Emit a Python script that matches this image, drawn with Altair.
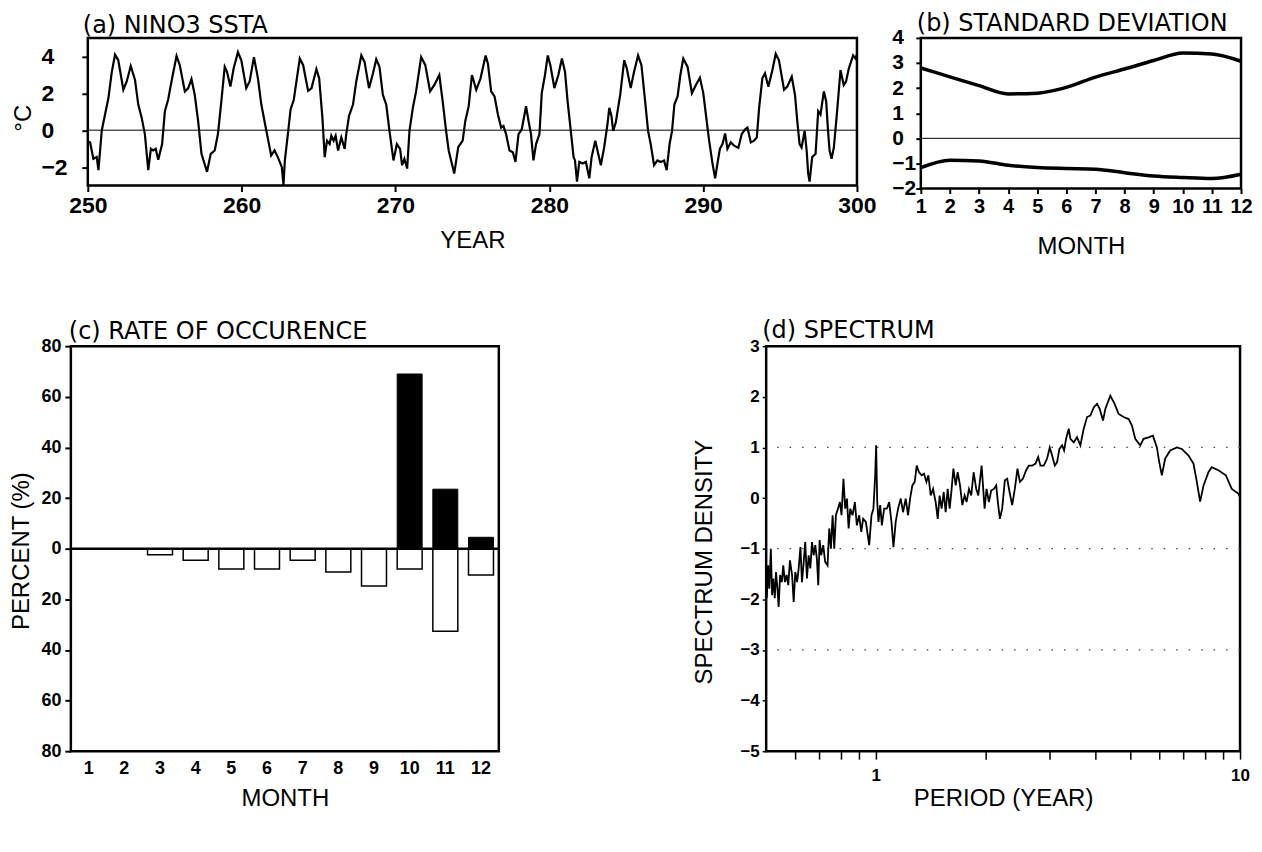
import altair as alt
import pandas as pd

FONT = "Liberation Sans"
TFONT = "DejaVu Sans"

# ---------------- (a) NINO3 SSTA ----------------
sst_year = [
    250.0, 250.15, 250.36, 250.58, 250.69, 250.91, 251.12, 251.34, 251.56, 251.77,
    251.98, 252.31, 252.53, 252.79, 253.07, 253.28, 253.5, 253.71, 253.93, 254.1,
    254.25, 254.41, 254.58, 254.83, 255.01, 255.22, 255.48, 255.77, 255.98, 256.31,
    256.52, 256.74, 256.95, 257.17, 257.39, 257.75, 257.99, 258.25, 258.46, 258.68,
    258.9, 259.05, 259.27, 259.48, 259.76, 259.98, 260.3, 260.52, 260.8, 261.06,
    261.28, 261.6, 261.92, 262.14, 262.35, 262.61, 262.72, 262.81, 263.03, 263.18,
    263.39, 263.56, 263.78, 264.0, 264.32, 264.54, 264.86, 265.04, 265.25, 265.4,
    265.55, 265.72, 265.83, 265.98, 266.11, 266.27, 266.48, 266.7, 266.8, 266.98,
    267.24, 267.45, 267.78, 267.99, 268.28, 268.54, 268.75, 268.96, 269.18, 269.4,
    269.61, 269.87, 270.09, 270.3, 270.43, 270.58, 270.76, 270.91, 271.13, 271.34,
    271.67, 271.94, 272.25, 272.53, 272.85, 273.07, 273.29, 273.46, 273.82, 274.08,
    274.37, 274.54, 274.76, 274.97, 275.25, 275.53, 275.86, 276.01, 276.22, 276.44,
    276.66, 276.87, 277.02, 277.19, 277.41, 277.63, 277.8, 278.0, 278.21, 278.49,
    278.65, 278.81, 278.97, 279.14, 279.36, 279.51, 279.72, 279.9, 280.07, 280.33,
    280.59, 280.82, 281.02, 281.19, 281.41, 281.58, 281.67, 281.8, 281.95, 282.16,
    282.38, 282.6, 282.75, 282.99, 283.18, 283.35, 283.57, 283.78, 283.9, 284.04,
    284.15, 284.32, 284.61, 284.87, 285.04, 285.29, 285.51, 285.77, 285.99, 286.23,
    286.42, 286.59, 286.81, 287.03, 287.24, 287.46, 287.63, 287.82, 287.98, 288.13,
    288.34, 288.52, 288.71, 288.99, 289.27, 289.53, 289.79, 290.01, 290.18, 290.39,
    290.61, 290.78, 290.93, 291.09, 291.26, 291.43, 291.58, 291.8, 292.02, 292.29,
    292.51, 292.73, 292.88, 293.1, 293.31, 293.49, 293.64, 293.85, 294.02, 294.24,
    294.5, 294.72, 294.93, 295.26, 295.47, 295.76, 295.97, 296.12, 296.27, 296.4,
    296.6, 296.73, 296.83, 296.92, 297.09, 297.31, 297.48, 297.63, 297.85, 298.0,
    298.12, 298.22, 298.35, 298.5, 298.71, 298.93, 299.14, 299.29, 299.47, 299.75,
    299.9, 300.0,
]
sst_anom = [
    -0.62, -0.66, -1.55, -1.45, -2.17, 0.0, 0.85, 1.74, 3.16, 4.09,
    3.79, 2.19, 2.64, 3.48, 2.72, 1.39, 0.68, -0.21, -2.17, -1.01,
    -1.1, -1.01, -1.6, -0.75, 1.03, 1.65, 2.81, 4.02, 3.52, 2.1,
    2.27, 2.77, 1.92, 0.5, -1.28, -2.26, -1.28, -1.1, -0.21, 1.56,
    3.43, 3.16, 2.36, 3.34, 4.23, 3.79, 2.28, 2.64, 3.96, 2.81,
    1.39, 0.0, -1.37, -1.1, -1.46, -1.99, -2.97, -1.64, -0.04, 1.12,
    1.65, 2.63, 3.88, 3.52, 2.13, 2.27, 3.31, 2.81, 0.68, -1.46,
    -0.57, -0.75, -0.3, -0.57, -0.3, -1.1, -0.39, -1.01, -0.21, 0.77,
    1.39, 2.63, 4.05, 3.7, 2.28, 3.08, 3.84, 3.43, 1.92, 1.39,
    -0.04, -1.64, -0.75, -1.01, -1.9, -1.55, -2.08, -0.04, 1.21, 2.1,
    3.96, 3.52, 2.1, 2.45, 2.99, 1.56, -0.04, -1.1, -2.35, -0.92,
    -0.57, 0.5, 1.3, 2.99, 2.19, 2.81, 4.05, 3.6, 2.1, 1.83,
    0.85, 0.14, 0.23, -0.21, -1.1, -1.19, -1.72, -0.21, 0.05, 1.3,
    0.5, -0.21, -1.64, -0.75, -0.21, 2.01, 2.99, 4.05, 3.52, 2.28,
    2.99, 3.88, 3.17, 1.56, -0.13, -1.46, -1.64, -2.79, -1.72, -1.81,
    -1.72, -2.61, -1.46, -0.57, -1.28, -1.9, -0.92, 0.32, 1.21, 0.77,
    -0.04, 0.41, 1.92, 3.79, 3.34, 2.28, 3.17, 4.05, 3.52, 1.56,
    -0.04, -0.75, -1.9, -1.64, -1.72, -1.64, -2.17, -0.75, -0.04, 1.39,
    1.83, 2.99, 3.88, 3.43, 2.01, 2.45, 2.84, 2.01, 0.85, -0.57,
    -1.81, -2.61, -1.81, -1.01, -0.75, -0.18, -1.01, -0.66, -0.84, -0.96,
    -0.21, 0.05, 0.14, -0.66, -0.57, -0.39, 1.21, 2.81, 3.08, 2.36,
    3.25, 4.14, 3.79, 2.19, 2.36, 2.9, 1.92, 0.5, -0.75, -0.93,
    -0.04, -1.1, -2.35, -2.79, -1.46, -1.28, 1.03, 0.85, 2.1, 1.56,
    -0.04, -1.1, -1.55, -0.93, 1.03, 3.25, 2.45, 2.63, 3.34, 4.05,
    3.88, 4.1,
]
year_ticks = [250, 260, 270, 280, 290, 300]
sst_ticks = [-2, 0, 2, 4]

# ---------------- (b) STANDARD DEVIATION ----------------
month = list(range(1, 13))
std_upper = [2.8, 2.45, 2.1, 1.77, 1.8, 2.03, 2.44, 2.76, 3.1, 3.4, 3.36, 3.07]
std_lower = [-1.17, -0.87, -0.9, -1.07, -1.16, -1.2, -1.23, -1.37, -1.5, -1.56, -1.6, -1.43]
std_ticks = [-2, -1, 0, 1, 2, 3, 4]

# ---------------- (c) RATE OF OCCURENCE ----------------
rate_warm = [0, 0, 0, 0, 0, 0, 0, 0, 0, 69, 23.5, 4.5]
rate_cold = [0, 0, 2.4, 4.6, 8, 8, 4.6, 9.2, 14.7, 8, 32.6, 10.4]
pct_ticks = [-80, -60, -40, -20, 0, 20, 40, 60, 80]

# ---------------- (d) SPECTRUM ----------------
period = [
    0.502, 0.506, 0.510, 0.515, 0.519, 0.523, 0.528, 0.532, 0.537, 0.541,
    0.546, 0.552, 0.557, 0.563, 0.569, 0.575, 0.581, 0.589, 0.595, 0.601,
    0.608, 0.614, 0.621, 0.627, 0.634, 0.640, 0.647, 0.654, 0.661, 0.668,
    0.675, 0.682, 0.689, 0.695, 0.701, 0.708, 0.717, 0.726, 0.737, 0.745,
    0.753, 0.761, 0.769, 0.777, 0.787, 0.797, 0.805, 0.815, 0.824, 0.833,
    0.842, 0.851, 0.863, 0.876, 0.887, 0.900, 0.912, 0.923, 0.939, 0.959,
    0.973, 0.985, 0.996, 1.002, 1.009, 1.017, 1.028, 1.039, 1.054, 1.072,
    1.088, 1.104, 1.118, 1.134, 1.151, 1.171, 1.188, 1.208, 1.226, 1.242,
    1.260, 1.279, 1.295, 1.314, 1.337, 1.356, 1.377, 1.394, 1.415, 1.436,
    1.460, 1.479, 1.497, 1.516, 1.536, 1.555, 1.575, 1.595, 1.615, 1.633,
    1.657, 1.678, 1.703, 1.728, 1.753, 1.775, 1.802, 1.828, 1.856, 1.887,
    1.911, 1.952, 1.989, 2.014, 2.044, 2.074, 2.109, 2.141, 2.163, 2.191,
    2.223, 2.261, 2.295, 2.329, 2.368, 2.408, 2.449, 2.486, 2.533, 2.587,
    2.631, 2.687, 2.744, 2.791, 2.832, 2.892, 2.953, 3.003, 3.048, 3.100,
    3.146, 3.192, 3.247, 3.288, 3.330, 3.386, 3.422, 3.495, 3.569, 3.645,
    3.722, 3.802, 3.882, 3.965, 4.049, 4.118, 4.205, 4.267, 4.404, 4.526,
    4.642, 4.790, 4.944, 5.049, 5.156, 5.321, 5.435, 5.610, 5.765, 5.912,
    6.000, 6.100, 6.230, 6.430, 6.710, 6.920, 7.220, 7.450, 7.610, 7.770,
    7.940, 8.190, 8.360, 8.720, 9.140, 9.490, 9.890, 10.0,
]
density = [
    -1.98, -1.33, -1.79, -1.0, -1.92, -1.59, -1.98, -1.46, -1.79, -2.15,
    -1.52, -1.66, -1.33, -1.66, -1.52, -1.72, -1.23, -1.52, -2.05, -1.46,
    -1.66, -1.39, -0.97, -1.66, -1.26, -0.87, -1.59, -1.13, -1.39, -0.87,
    -1.13, -0.93, -1.2, -1.72, -0.83, -1.13, -0.93, -1.26, -1.33, -0.6,
    -1.0, -0.34, -1.0, -0.34, -0.21, -0.08, -0.34, 0.38, -0.21, -0.01,
    -0.6, -0.21, -0.34, -0.08, -0.54, -0.34, -0.67, -0.41, -0.47, -0.93,
    -0.34, -0.21, 0.45, 1.04, -0.08, -0.47, -0.14, -0.54, -0.21, -0.21,
    -0.08, -0.47, -0.97, -0.47, -0.21, -0.01, -0.28, -0.01, -0.34, -0.01,
    0.25, 0.32, 0.64, 0.51, 0.45, 0.48, 0.32, 0.45, 0.05, 0.18,
    -0.08, -0.41, 0.05, -0.21, 0.12, -0.28, 0.18, -0.21, 0.18, 0.58,
    0.25, 0.51, 0.25, -0.14, 0.05, -0.08, 0.18, 0.05, 0.51, 0.18,
    0.05, 0.64, -0.21, 0.18, -0.08, 0.15, 0.18, 0.25, -0.08, -0.41,
    -0.21, 0.35, 0.38, 0.12, -0.14, 0.18, 0.58, 0.32, 0.38, 0.55,
    0.64, 0.64, 0.68, 0.81, 0.64, 0.64, 0.78, 1.0, 0.84, 0.64,
    0.71, 0.97, 1.04, 0.94, 1.17, 1.37, 1.17, 1.1, 1.2, 1.04,
    1.37, 1.6, 1.63, 1.79, 1.86, 1.76, 1.53, 1.76, 2.02, 1.86,
    1.66, 1.6, 1.56, 1.43, 1.17, 1.04, 1.17, 1.2, 1.23, 1.0,
    0.71, 0.45, 0.78, 0.94, 1.0, 0.97, 0.84, 0.68, 0.32, -0.07,
    0.25, 0.51, 0.61, 0.55, 0.45, 0.18, 0.09, 0.02,
]
period_ticks = [0.6, 0.7, 0.8, 0.9, 1, 2, 3, 4, 5, 6, 7, 8, 9, 10]
density_ticks = [-5, -4, -3, -2, -1, 0, 1, 2, 3]
dotted_levels = [1, -1, -3]

# ---------------- sizes ----------------
AW, AH = 771, 148
BW, BH = 321, 151
CW, CH = 429, 406
DW, DH = 475, 406


def ptitle(text, dx, offset):
    return alt.TitleParams(text, anchor="start", frame="group", font=TFONT, fontSize=24,
                           fontWeight="normal", color="black", dx=dx, offset=offset)


def xaxis(values, title, size, tx, ty, **kw):
    if values is not None:
        kw["values"] = values
    return alt.Axis(title=title, labelFont=FONT, labelFontSize=size,
                    labelFontWeight="bold", labelFlush=False, labelOverlap=False,
                    titleFont=FONT, titleFontSize=24, titleFontWeight="normal",
                    titleX=tx, titleY=ty, titleBaseline="middle", titleAlign="center", **kw)


def yaxis(values, title, size, tx, ty, **kw):
    return alt.Axis(values=values, title=title, labelFont=FONT, labelFontSize=size,
                    labelFontWeight="bold", labelOverlap=False,
                    titleFont=FONT, titleFontSize=24, titleFontWeight="normal",
                    titleX=tx, titleY=ty, titleBaseline="middle", titleAlign="center",
                    titleAngle=270, **kw)


# ---- panel (a)
df_a = pd.DataFrame({"year": sst_year, "ssta": sst_anom})
xa = alt.X("year:Q", scale=alt.Scale(domain=[250, 300], nice=False, zero=False),
           axis=xaxis(year_ticks, "YEAR", 23, AW / 2, 55, format="d", tickSize=6, tickWidth=2, labelPadding=3))
ya = alt.Y("ssta:Q", scale=alt.Scale(domain=[-3, 5], nice=False),
           axis=yaxis(sst_ticks, "°C", 23, -64, 80, labelAlign="left", tickSize=6, tickWidth=2, labelPadding=41))
zero_a = alt.Chart(pd.DataFrame({"ssta": [0]})).mark_rule(color="black", strokeWidth=1).encode(y=ya)
line_a = alt.Chart(df_a).mark_line(color="black", strokeWidth=2.2).encode(x=xa, y=ya)
panel_a = alt.layer(zero_a, line_a).properties(width=AW, height=AH, title=ptitle("(a) NINO3 SSTA", -5, -0.5))

# ---- panel (b)
df_b = pd.DataFrame({"month": month, "upper": std_upper, "lower": std_lower})
xb = alt.X("month:Q", scale=alt.Scale(domain=[1, 12], nice=False, zero=False),
           axis=xaxis(month, "MONTH", 20, BW / 2, 58, format="d", tickSize=5, tickWidth=2, labelPadding=3))
yb = alt.Y("sd:Q", scale=alt.Scale(domain=[-2, 4], nice=False),
           axis=yaxis(std_ticks, "", 21, -40, 75, labelAlign="left", tickSize=5, tickWidth=2, labelPadding=24))
zero_b = alt.Chart(pd.DataFrame({"sd": [0]})).mark_rule(color="black", strokeWidth=1).encode(y=yb)
lines_b = alt.Chart(df_b).transform_fold(["upper", "lower"], as_=["bound", "sd"]).mark_line(
    color="black", strokeWidth=3.5, interpolate="monotone").encode(x=xb, y=yb, detail="bound:N")
panel_b = alt.layer(zero_b, lines_b).properties(width=BW, height=BH,
                                                title=ptitle("(b) STANDARD DEVIATION", -4, -9.5))

# ---- panel (c)
df_c = pd.DataFrame({"month": month, "warm": rate_warm, "cold": rate_cold})
xc = alt.X("month:O", scale=alt.Scale(paddingInner=0.3, paddingOuter=0.15),
           axis=xaxis(None, "MONTH", 18, CW / 2, 47, labelAngle=0, ticks=False, tickSize=0, labelPadding=8))
yc = alt.Y("pct:Q", scale=alt.Scale(domain=[-80, 80], nice=False),
           axis=yaxis(pct_ticks, "PERCENT (%)", 18, -49, 205, labelExpr="abs(datum.value)",
                      tickSize=6, tickWidth=2, labelPadding=4))
cold_c = alt.Chart(df_c).transform_calculate(pct="-datum.cold").mark_bar(
    fill="white", stroke="black", strokeWidth=1.5).encode(x=xc, y=yc, y2=alt.datum(0))
warm_c = alt.Chart(df_c).transform_calculate(pct="datum.warm").mark_bar(
    fill="black", stroke="black", strokeWidth=1).encode(x=xc, y=yc, y2=alt.datum(0))
zero_c = alt.Chart(pd.DataFrame({"pct": [0]})).mark_rule(color="black", strokeWidth=2.5).encode(y=yc)
panel_c = alt.layer(cold_c, warm_c, zero_c).properties(width=CW, height=CH,
                                                       title=ptitle("(c) RATE OF OCCURENCE", -2, -7))

# ---- panel (d)
df_d = pd.DataFrame({"period": period, "density": density})
xd = alt.X("period:Q", scale=alt.Scale(type="log", domain=[0.5, 10], nice=False),
           axis=xaxis(period_ticks, "PERIOD (YEAR)", 17, DW / 2, 47, format="~g",
                      labelExpr="(datum.value == 1 || datum.value == 10) ? datum.label : ''",
                      tickSize=8, tickWidth=1.5, labelPadding=8))
yd = alt.Y("density:Q", scale=alt.Scale(domain=[-5, 3], nice=False),
           axis=yaxis(density_ticks, "SPECTRUM DENSITY", 17, -62, 216, tickSize=4, tickWidth=1.5, labelPadding=3))
grid_d = alt.Chart(pd.DataFrame({"density": dotted_levels})).mark_rule(
    color="#444444", strokeWidth=1.3, strokeDash=[1.5, 11]).encode(y=yd)
line_d = alt.Chart(df_d).mark_line(color="black", strokeWidth=1.8).encode(x=xd, y=yd)
panel_d = alt.layer(grid_d, line_d).properties(width=DW, height=DH, title=ptitle("(d) SPECTRUM", -4, -6))

# ---- layout
spacer = alt.Chart(pd.DataFrame({"s": [0]})).mark_point(opacity=0).encode(
    x=alt.X("s:Q", axis=None), y=alt.Y("s:Q", axis=None)
).properties(width=1, height=1, view=alt.ViewBackground(strokeOpacity=0))

top = alt.hconcat(spacer, alt.hconcat(panel_a, panel_b, spacing=64, bounds="flush"),
                  spacing=16, bounds="flush")
bottom = alt.hconcat(panel_c, panel_d, spacing=268, bounds="flush")

# nested concat rows count as zero height with flush bounds, so the spacing is top-to-top
chart = alt.vconcat(top, bottom, spacing=309, bounds="flush").properties(
    padding={"left": 0, "top": 2, "right": 0, "bottom": 5}, background="white"
).configure_axis(
    grid=False, domain=False, labelColor="black", tickColor="black", titleColor="black"
).configure_view(stroke="black", strokeWidth=2.5)

chart.save("out.html", embed_options={"renderer": "svg", "actions": False})
